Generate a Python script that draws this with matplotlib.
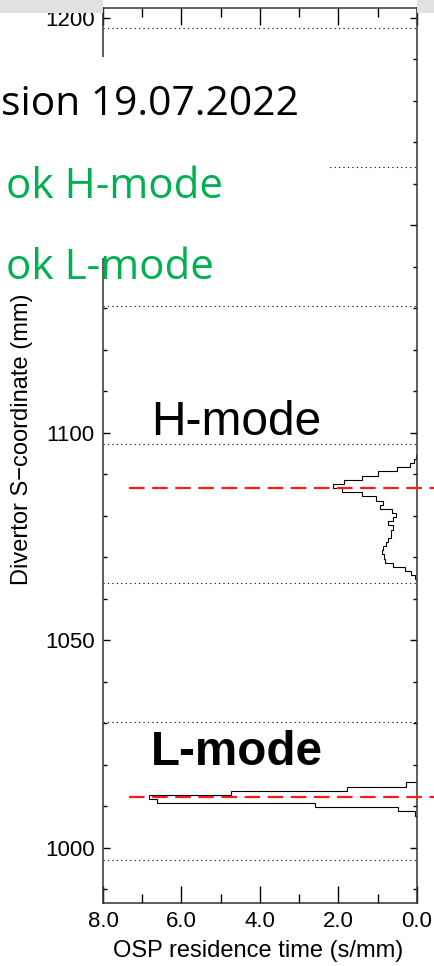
import numpy as np
import matplotlib
matplotlib.use("Agg")
import matplotlib.pyplot as plt
from matplotlib.patches import Rectangle
from matplotlib.ticker import MultipleLocator, FormatStrFormatter

# H-mode residence time histogram (1 mm bins, read top -> bottom)
h_top = 1095.7
h_vals = [0.01, 0.02, 0.08, 0.18, 0.52, 0.99, 1.41, 1.86, 2.13, 1.90,
          1.41, 1.05, 0.87, 0.94, 0.64, 0.53, 0.62, 0.73, 0.60, 0.67,
          0.67, 0.73, 0.79, 0.87, 0.89, 0.85, 0.81, 0.60, 0.31, 0.16,
          0.05]
h_edges = [h_top - i for i in range(len(h_vals) + 1)]

# L-mode histogram (edges, top -> bottom)
l_edges = [1015.8, 1014.6, 1013.8, 1012.8, 1011.8, 1010.8, 1009.8, 1008.8, 1007.6]
l_vals = [0.28, 1.79, 4.74, 6.82, 6.63, 2.60, 0.48, 0.05]

# strike point positions (red) and tile gaps (dotted)
osp_lines = [1086.7, 1012.3]
tile_gaps = [997.1, 1030.4, 1063.9, 1097.3, 1130.6, 1164.1, 1197.6]

plt.rcParams['font.family'] = ['Liberation Sans', 'DejaVu Sans']

W, H = 435, 966
fig = plt.figure(figsize=(W / 100, H / 100), dpi=100)
fig.patch.set_facecolor("white")
ax = fig.add_axes([103 / W, 1 - 903 / H, 314 / W, 895 / H])

for y in tile_gaps:
    ax.plot([8, 0], [y, y], color="black", lw=0.8, ls=(0, (1, 3)), zorder=1)

ax.stairs(h_vals[::-1], h_edges[::-1], orientation="horizontal",
          baseline=0, color="black", lw=0.8, zorder=2)
ax.stairs(l_vals[::-1], l_edges[::-1], orientation="horizontal",
          baseline=0, color="black", lw=0.8, zorder=2)

for y in osp_lines:
    ax.plot([7.35, -0.6], [y, y], color="#ff1a1a", lw=1.6,
            dashes=(7, 3.4), clip_on=False, zorder=3)

ax.set_xlim(8, 0)
ax.set_ylim(986.7, 1202.4)
ax.xaxis.set_major_locator(MultipleLocator(2))
ax.xaxis.set_minor_locator(MultipleLocator(1))
ax.yaxis.set_major_locator(MultipleLocator(50))
ax.yaxis.set_minor_locator(MultipleLocator(10))
ax.xaxis.set_major_formatter(FormatStrFormatter("%.1f"))
ax.yaxis.set_major_formatter(FormatStrFormatter("%d"))

ax.tick_params(axis="both", which="both", direction="in",
               top=True, right=True, width=1.0, color="black",
               labelsize=16)
ax.tick_params(axis="x", which="major", length=12.5, pad=6)
ax.tick_params(axis="x", which="minor", length=6.5)
ax.tick_params(axis="y", which="major", length=5, pad=6)
ax.tick_params(axis="y", which="minor", length=3)
for s in ax.spines.values():
    s.set_color("#333333")
    s.set_linewidth(1.1)

ax.set_xlabel("OSP residence time (s/mm)", fontsize=17)
ax.set_ylabel("Divertor S\u2212coordinate (mm)", fontsize=17)
ax.xaxis.set_label_coords(0.494, -0.041)
ax.yaxis.set_label_coords(-0.222, 0.518)

ax.text(6.78, 1099.5, "H-mode", fontsize=34.5,
        ha="left", va="baseline", zorder=4)
ax.text(6.78, 1020.0, "L-mode", fontsize=34.3,
        fontweight="bold", ha="left", va="baseline", zorder=4)

# slide overlay: grey band, white box with annotation text
fig.add_artist(Rectangle((0, 1 - 13 / H), 103 / W, 13 / H, transform=fig.transFigure,
                         facecolor="#e1e1e1", edgecolor="none", zorder=5))
fig.add_artist(Rectangle((417 / W, 1 - 13 / H), 18 / W, 13 / H, transform=fig.transFigure,
                         facecolor="#e1e1e1", edgecolor="none", zorder=5))
fig.add_artist(Rectangle((0, 1 - 258 / H), 330 / W, 201 / H, transform=fig.transFigure,
                         facecolor="white", edgecolor="none", zorder=5))
fig.text(1 / W, 1 - 115 / H, "sion 19.07.2022", fontsize=29.3, family="Open Sans",
         color="black", ha="left", va="baseline", zorder=6)
fig.text(6 / W, 1 - 198 / H, "ok H-mode", fontsize=30.3, family="Open Sans",
         color="#00b050", ha="left", va="baseline", zorder=6)
fig.text(6 / W, 1 - 279 / H, "ok L-mode", fontsize=30.3, family="Open Sans",
         color="#00b050", ha="left", va="baseline", zorder=6)

fig.savefig("out.png", dpi=100)
